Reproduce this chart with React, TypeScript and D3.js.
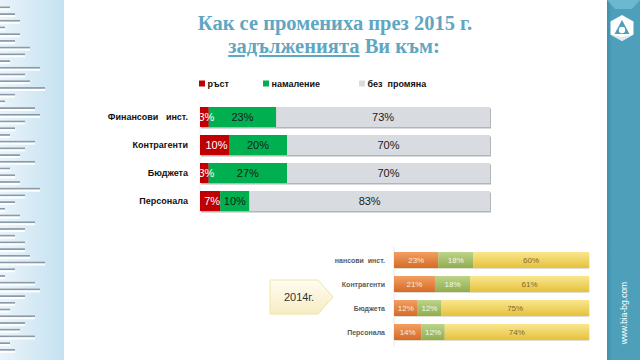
import React from "react";
import * as d3 from "d3";

const categories = ["Финансови   инст.", "Контрагенти", "Бюджета", "Персонала"];
const seriesKeys = ["growth", "decrease", "same"];
const seriesNames = ["ръст", "намаление", "без  промяна"];
const growth2015 = [3, 10, 3, 7];
const decrease2015 = [23, 20, 27, 10];
const same2015 = [73, 70, 70, 83];

const categories2014 = ["нансови  инст.", "Контрагенти", "Бюджета", "Персонала"];
const growth2014 = [23, 21, 12, 14];
const decrease2014 = [18, 18, 12, 12];
const same2014 = [60, 61, 75, 74];

const stripeLengths = [10,15,20,5,20,15,30,25,10,40,25,30,45,15,5,35,40,25,15,10,35,25,20,35,10,15,20,40,25,15,5,20,35,25,15,25,25,30,45,15,5,35,40,25,15,10,35,25,20,35,10,15];

const W = 640, H = 360;
const SANS = "'Liberation Sans', Arial, sans-serif";
const SERIF = "'Liberation Serif', 'DejaVu Serif', serif";

function buildRows(cats: string[], a: number[], b: number[], c: number[]) {
  return cats.map((cat, i) => ({ cat, growth: a[i], decrease: b[i], same: c[i] }));
}

export default function App() {
  const rows = buildRows(categories, growth2015, decrease2015, same2015);
  const rows14 = buildRows(categories2014, growth2014, decrease2014, same2014);
  const stack = d3.stack<any>().keys(seriesKeys).offset(d3.stackOffsetExpand);
  const st = stack(rows);
  const st14 = stack(rows14);

  const x = d3.scaleLinear().domain([0, 1]).range([200, 490]);
  const y = d3.scaleBand().domain(categories).range([103, 215]).paddingInner(8 / 28).paddingOuter(4 / 28);
  const x2 = d3.scaleLinear().domain([0, 1]).range([394, 589]);
  const y2 = d3.scaleBand().domain(categories2014).range([248, 344]).paddingInner(8 / 24).paddingOuter(4 / 24);

  const fill15 = ["#c00000", "#00b050", "#d8dce1"];
  const text15 = ["#ffffff", "#1a1a1a", "#1a1a1a"];
  const fill14 = ["url(#gOrange)", "url(#gGreen)", "url(#gYellow)"];
  const text14 = ["#fde9d9", "#f4f8ec", "#7d6a2c"];

  const stripeY = d3.scaleLinear().domain([0, stripeLengths.length - 1]).range([6.5, 349]);

  const legendX = [199, 263, 359];

  return (
    <svg width={W} height={H} style={{ position: "absolute", left: 0, top: 0 }}>
      <defs>
        <linearGradient id="gPanel" x1="0" x2="1" y1="0" y2="0">
          <stop offset="0" stopColor="#eaf4fa" />
          <stop offset="1" stopColor="#c4e1f1" />
        </linearGradient>
        <linearGradient id="gOrange" x1="0" x2="0" y1="0" y2="1">
          <stop offset="0" stopColor="#f2a062" />
          <stop offset="1" stopColor="#d46a28" />
        </linearGradient>
        <linearGradient id="gGreen" x1="0" x2="0" y1="0" y2="1">
          <stop offset="0" stopColor="#bcd48a" />
          <stop offset="1" stopColor="#8fae4e" />
        </linearGradient>
        <linearGradient id="gYellow" x1="0" x2="0" y1="0" y2="1">
          <stop offset="0" stopColor="#f9e68e" />
          <stop offset="1" stopColor="#e6c23c" />
        </linearGradient>
        <linearGradient id="gArrow" x1="0" x2="0" y1="0" y2="1">
          <stop offset="0" stopColor="#fffdf3" />
          <stop offset="1" stopColor="#f7ecc2" />
        </linearGradient>
        <linearGradient id="gStrip" x1="0" x2="1" y1="0" y2="0">
          <stop offset="0" stopColor="#3f8faa" />
          <stop offset="0.15" stopColor="#4d9fba" />
          <stop offset="1" stopColor="#4d9fba" />
        </linearGradient>
      </defs>
      <rect x={0} y={0} width={W} height={H} fill="#ffffff" />

      {/* left decorative panel */}
      <rect x={0} y={0} width={64} height={H} fill="url(#gPanel)" />
      {stripeLengths.map((len, i) => (
        <g key={i}>
          <rect x={0} y={stripeY(i)} width={len} height={1.8} fill="#8a9aa8" />
          <rect x={0} y={stripeY(i) + 1.8} width={len} height={2} fill="#ffffff" />
        </g>
      ))}

      {/* right strip */}
      <rect x={607} y={0} width={33} height={H} fill="url(#gStrip)" />
      <polygon points="607,0 640,0 632,9 615,9" fill="#6cb8d0" />
      <g transform="translate(622,28)">
        <polygon points="0,-13 11.5,-6.5 11.5,6.5 0,13 -11.5,6.5 -11.5,-6.5" fill="#ffffff" />
        <polygon points="0,-8 7.5,6 -7.5,6" fill="#4d9fba" />
        <circle cx={0} cy={2} r={3.2} fill="#ffffff" />
        <polygon points="-11.5,6.5 0,13 11.5,6.5 0,9" fill="#dde9ee" />
      </g>
      <text transform="translate(627,313) rotate(-90)" textAnchor="middle" fontFamily={SANS} fontSize={8.5} fill="#ffffff">www.bia-bg.com</text>

      {/* title */}
      <text x={335} y={30} textAnchor="middle" fontFamily={SERIF} fontWeight="bold" fontSize={20.5} fill="#5fa6c2">Как се промениха през 2015 г.</text>
      <text x={334} y={53} textAnchor="middle" fontFamily={SERIF} fontWeight="bold" fontSize={20.5} fill="#5fa6c2">
        <tspan textDecoration="underline">задълженията</tspan> Ви към:
      </text>

      {/* legend */}
      {seriesNames.map((n, i) => (
        <g key={n}>
          <rect x={legendX[i]} y={80.5} width={6} height={6} fill={fill15[i]} />
          <text x={legendX[i] + 8.5} y={87} fontFamily={SANS} fontWeight="bold" fontSize={9} fill="#111" style={{ whiteSpace: "pre" }}>{n}</text>
        </g>
      ))}

      {/* main chart */}
      <line x1={200} x2={200} y1={102} y2={216} stroke="#ececec" />
      {rows.map((r) => (
        <g key={r.cat}>
          <rect x={x(0) + 1} y={(y(r.cat) as number) + 1.5} width={x(1) - x(0)} height={y.bandwidth()} fill="#9ca2a8" opacity={0.8} />
          <text x={188} y={(y(r.cat) as number) + y.bandwidth() / 2 + 3.2} textAnchor="end" fontFamily={SANS} fontWeight="bold" fontSize={9} fill="#111" style={{ whiteSpace: "pre" }}>{r.cat}</text>
        </g>
      ))}
      {st.map((s, si) => (
        <g key={s.key}>
          {s.map((d, i) => (
            <rect key={i} x={x(d[0])} y={y(categories[i]) as number} width={x(d[1]) - x(d[0])} height={y.bandwidth()} fill={fill15[si]} />
          ))}
        </g>
      ))}
      {st.map((s, si) => (
        <g key={s.key + "t"}>
          {s.map((d, i) => (
            <text key={i} x={(x(d[0]) + x(d[1])) / 2 + (si === 0 ? 2 : 0)} y={(y(categories[i]) as number) + y.bandwidth() / 2 + 4} textAnchor="middle" fontFamily={SANS} fontSize={11} fill={text15[si]}>
              {(d.data as any)[s.key] + "%"}
            </text>
          ))}
        </g>
      ))}

      {/* 2014 chart */}
      <line x1={394} x2={394} y1={247} y2={346} stroke="#e6e6e6" />
      {rows14.map((r) => (
        <g key={r.cat}>
          <rect x={x2(0) + 0.5} y={(y2(r.cat) as number) + 1} width={x2(1) - x2(0)} height={y2.bandwidth()} fill="#d9d3bd" opacity={0.7} />
          <text x={385} y={(y2(r.cat) as number) + y2.bandwidth() / 2 + 2.6} textAnchor="end" fontFamily={SANS} fontWeight="bold" fontSize={7} fill="#5a5a5a" style={{ whiteSpace: "pre" }}>{r.cat}</text>
        </g>
      ))}
      {st14.map((s, si) => (
        <g key={s.key}>
          {s.map((d, i) => (
            <rect key={i} x={x2(d[0])} y={y2(categories2014[i]) as number} width={x2(d[1]) - x2(d[0])} height={y2.bandwidth()} fill={fill14[si]} />
          ))}
        </g>
      ))}
      {st14.map((s, si) => (
        <g key={s.key + "t"}>
          {s.map((d, i) => (
            <text key={i} x={(x2(d[0]) + x2(d[1])) / 2} y={(y2(categories2014[i]) as number) + y2.bandwidth() / 2 + 3} textAnchor="middle" fontFamily={SANS} fontSize={8} fill={text14[si]}>
              {(d.data as any)[s.key] + "%"}
            </text>
          ))}
        </g>
      ))}

      {/* 2014 arrow label */}
      <polygon points="270,280 318,280 333,297 318,314 270,314" fill="url(#gArrow)" stroke="#f1e3a6" strokeWidth={1} />
      <text x={299} y={301} textAnchor="middle" fontFamily={SANS} fontSize={11} fill="#333">2014г.</text>
    </svg>
  );
}
